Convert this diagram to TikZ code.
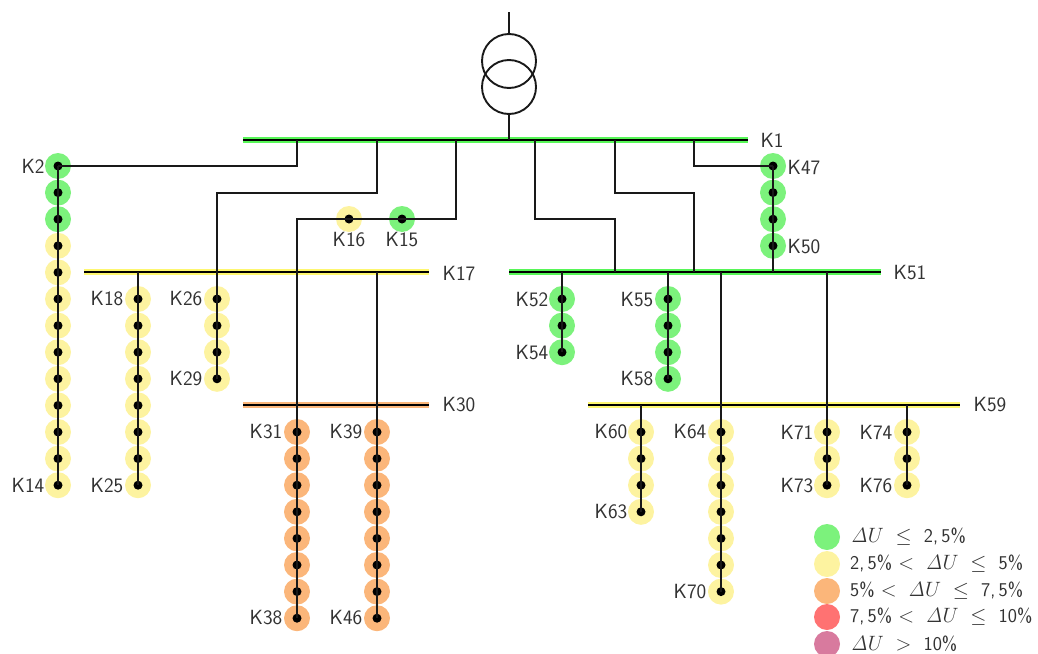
\documentclass[tikz,border=0pt]{standalone}
\usepackage{amsmath}
\definecolor{cG}{HTML}{7CF27C}
\definecolor{cY}{HTML}{FDF3A0}
\definecolor{cO}{HTML}{FBB67A}
\definecolor{cR}{HTML}{FF7272}
\definecolor{cP}{HTML}{D87A9E}
\definecolor{txt}{HTML}{333333}
\pgfdeclarelayer{halos}
\pgfsetlayers{halos,main}
\tikzset{
  wire/.style={draw=black!90,line width=1.9pt},
  chainwire/.style={draw=black!90,line width=2.2pt},
  busg/.style={line width=5.4pt},
  busk/.style={draw=black,line width=2pt},
  halo/.style={circle,inner sep=0pt,minimum size=26pt,fill=#1,draw=none},
  kdot/.style={circle,inner sep=0pt,minimum size=9pt,fill=black,draw=none},
  lab/.style={text=txt,font=\sffamily\fontsize{20.5}{22}\selectfont,inner sep=0pt},
  legtext/.style={text=txt,font=\sffamily\fontsize{19.5}{22}\selectfont,inner sep=0pt,anchor=west},
  tr/.style={circle,draw=black!90,line width=1.9pt,minimum size=54pt,inner sep=0pt},
}
\newcommand{\KChain}[5]{% first, last, x, y0, colour
  \foreach \i in {#1,...,#2}{
    \pgfmathsetmacro\yy{#4+(\i-#1)*26.6}
    \begin{pgfonlayer}{halos}\node[halo=#5] (h\i) at (#3,\yy) {};\end{pgfonlayer}
    \node[kdot] (k\i) at (#3,\yy) {};
  }
}
\newcommand{\KLine}[2]{% chain between consecutive nodes
  \foreach \i [count=\j from #1] in {#1,...,#2}{
    \ifnum\i<#2 \pgfmathtruncatemacro\nx{\i+1}\draw[chainwire] (k\i.center) -- (k\nx.center);\fi
  }
}
\newcommand{\Bus}[5]{% name, x1, x2, y, colour
  \coordinate (#1a) at (#2,#4);
  \coordinate (#1b) at (#3,#4);
  \begin{pgfonlayer}{halos}\draw[busg,draw=#5] (#1a) -- (#1b);\end{pgfonlayer}
  \draw[busk] (#1a) -- (#1b);
}
\newcommand{\Leg}{\mathrel{\ \le\ }}
\newcommand{\Llt}{\mathrel{\ <\ }}
\newcommand{\Dd}{\mathit{\Delta}U}
\begin{document}
\begin{tikzpicture}[x=1pt,y=-1pt]
\useasboundingbox (0,0) rectangle (1038,653);
\clip (0,0) rectangle (1038,653);
% K-points
\KChain{2}{4}{58}{166}{cG}
\foreach \i in {5,...,14}{
  \pgfmathsetmacro\yy{166+(\i-2)*26.6}
  \begin{pgfonlayer}{halos}\node[halo=cY] (h\i) at (58,\yy) {};\end{pgfonlayer}
  \node[kdot] (k\i) at (58,\yy) {};
}
\begin{pgfonlayer}{halos}
\node[halo=cG] (h15) at (402,219) {};
\node[halo=cY] (h16) at (349,219) {};
\end{pgfonlayer}
\node[kdot] (k15) at (402,219) {};
\node[kdot] (k16) at (349,219) {};
\KChain{18}{25}{138}{299}{cY}
\KChain{26}{29}{217}{299}{cY}
\KChain{31}{38}{297}{432}{cO}
\KChain{39}{46}{377}{432}{cO}
\KChain{47}{50}{773}{166}{cG}
\KChain{52}{54}{562}{299}{cG}
\KChain{55}{58}{668}{299}{cG}
\KChain{60}{63}{641}{432}{cY}
\KChain{64}{70}{721}{432}{cY}
\KChain{71}{73}{827}{432}{cY}
\KChain{74}{76}{907}{432}{cY}
% buses
\Bus{K1}{243}{748}{140}{cG!70!green}
\Bus{K17}{84}{429}{272}{cY!70!yellow}
\Bus{K30}{243}{429}{405}{cO}
\Bus{K51}{509}{881}{272}{cG!70!green}
\Bus{K59}{588}{960}{405}{cY!70!yellow}
% transformer
\coordinate (trtop) at (509,12);
\coordinate (trbus) at (509,140);
\node[tr] (t1) at (509,61) {};
\node[tr] (t2) at (509,87) {};
\draw[wire] (trtop) -- (t1.north);
\draw[wire] (t2.south) -- (trbus);
% junctions on buses
\coordinate (a1) at (297,140);
\coordinate (a2) at (377,140);
\coordinate (a3) at (456,140);
\coordinate (a4) at (535,140);
\coordinate (a5) at (615,140);
\coordinate (a6) at (694,140);
\coordinate (e4) at (615,272);
\coordinate (e5) at (694,272);
\coordinate (e6) at (773,272);
\coordinate (j18) at (138,272);
\coordinate (j39) at (377,272);
\coordinate (j52) at (562,272);
\coordinate (j55) at (668,272);
\coordinate (j64) at (721,272);
\coordinate (j71) at (827,272);
\coordinate (c2) at (217,193);
\coordinate (c4a) at (535,219);
\coordinate (c4b) at (615,219);
\coordinate (c5a) at (615,193);
\coordinate (c5b) at (694,193);
\coordinate (c3) at (297,219);
\coordinate (j60) at (641,405);
\coordinate (j74) at (907,405);
% connectors
\draw[wire] (a1) |- (k2.center);
\draw[wire] (a2) |- (c2) -- (k26.center);
\draw[wire] (a3) |- (k15.center) -- (k16.center) -- (c3) -- (k31.center);
\draw[wire] (a4) -- (c4a) -- (c4b) -- (e4);
\draw[wire] (a5) -- (c5a) -- (c5b) -- (e5);
\draw[wire] (a6) |- (k47.center);
\draw[wire] (k50.center) -- (e6);
\draw[wire] (j18) -- (k18.center);
\draw[wire] (j39) -- (k39.center);
\draw[wire] (j52) -- (k52.center);
\draw[wire] (j55) -- (k55.center);
\draw[wire] (j64) -- (k64.center);
\draw[wire] (j71) -- (k71.center);
\draw[wire] (j60) -- (k60.center);
\draw[wire] (j74) -- (k74.center);
\KLine{2}{14}
\KLine{18}{25}
\KLine{26}{29}
\KLine{31}{38}
\KLine{39}{46}
\KLine{47}{50}
\KLine{52}{54}
\KLine{55}{58}
\KLine{60}{63}
\KLine{64}{70}
\KLine{71}{73}
\KLine{74}{76}
% labels
\foreach \n/\x/\y in {K1/772/140,K47/804/167,K50/804/247,K2/33/166,K14/28/485,K18/107/299,K25/107/486,K26/186/299,K29/186/379,K16/349/240,K15/402/240,K17/459/273,K51/910/273,K30/459/405,K59/990/405,K52/532/300,K54/532/353,K55/637/300,K58/637/379,K31/266/432,K38/266/618,K39/346/432,K46/346/618,K60/611/432,K63/611/512,K64/690/432,K70/690/592,K71/797/432,K73/797/486,K74/876/432,K76/876/486}{
  \node[lab] (L\n) at (\x,\y) {\n};
}
% legend
\node[halo=cG] (m1) at (827,537) {};
\node[halo=cY] (m2) at (827,564) {};
\node[halo=cO] (m3) at (827,591) {};
\node[halo=cR] (m4) at (827,617) {};
\node[halo=cP] (m5) at (827,644) {};
\node[legtext] (t1l) at (851,537) {$\Dd\Leg$ 2,\,5\%};
\node[legtext] (t2l) at (850,564) {2,\,5\%$\Llt\Dd\Leg$ 5\%};
\node[legtext] (t3l) at (850,591) {5\%$\Llt\Dd\Leg$ 7,\,5\%};
\node[legtext] (t4l) at (850,617) {7,\,5\%$\Llt\Dd\Leg$ 10\%};
\node[legtext] (t5l) at (851,644) {$\Dd\mathrel{\ >\ }$ 10\%};
\end{tikzpicture}
\end{document}
